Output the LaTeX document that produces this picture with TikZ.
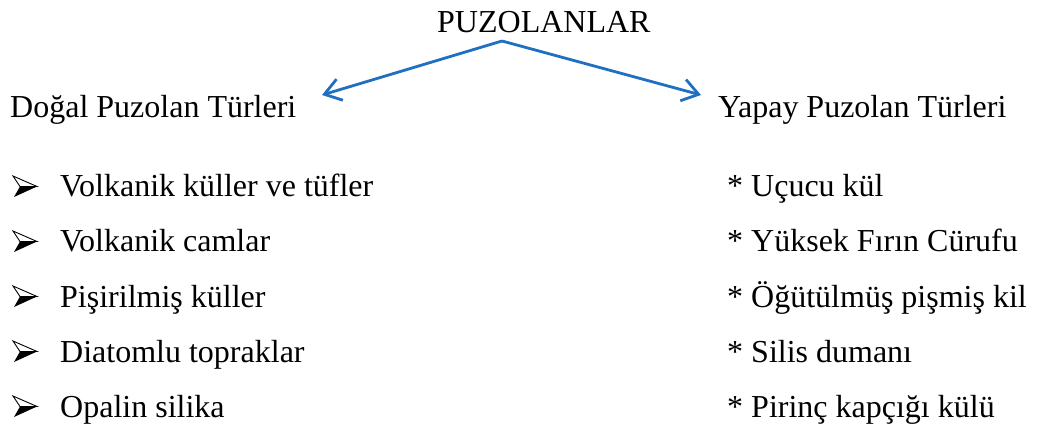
\documentclass[tikz,border=0pt]{standalone}
\usepackage{fontspec}
\setmainfont{Liberation Serif}
\usetikzlibrary{arrows.meta}
\definecolor{arrowblue}{HTML}{1F70C1}
\tikzset{
  txt/.style={anchor=base west, inner sep=0pt, font=\fontsize{32}{38}\selectfont},
  conn/.style={arrowblue, line width=2.8pt, -{Straight Barb[length=16pt,width=22pt,line width=2.8pt]}},
  pics/darrow/.style={code={
    \fill[black] (1,0) -- (24,10.5) -- (7,10.5) -- cycle;
    \draw[black, line width=0.9pt, fill=white, line join=miter] (0,21) -- (24,10.5) -- (7,10.5) -- cycle;
  }}
}
\begin{document}
\begin{tikzpicture}[x=1pt,y=1pt]
\useasboundingbox (0,0) rectangle (1038,426);
% title
\node[txt] (title) at (437,393) {PUZOLANLAR};
\node[txt] (left) at (10,308) {Doğal Puzolan Türleri};
\node[txt] (right) at (718,308) {Yapay Puzolan Türleri};
% connectors
\coordinate (apex) at (502,385);
\coordinate (ltip) at (322,331);
\coordinate (rtip) at (701,331);
\draw[conn] (apex) -- (ltip);
\draw[conn] (apex) -- (rtip);
% left list
\foreach \y/\t/\n in {229/Volkanik küller ve tüfler/l1, 174/Volkanik camlar/l2, 119/Pişirilmiş küller/l3, 64/Diatomlu topraklar/l4, 9/Opalin silika/l5}{
  \pic at (13,\y) {darrow};
  \node[txt] (\n) at (60,\y) {\t};
}
% right list
\foreach \y/\t/\n in {229/* Uçucu kül/r1, 174/* Yüksek Fırın Cürufu/r2, 119/* Öğütülmüş pişmiş kil/r3, 64/* Silis dumanı/r4, 9/* Pirinç kapçığı külü/r5}{
  \node[txt] (\n) at (727,\y) {\t};
}
\end{tikzpicture}
\end{document}
